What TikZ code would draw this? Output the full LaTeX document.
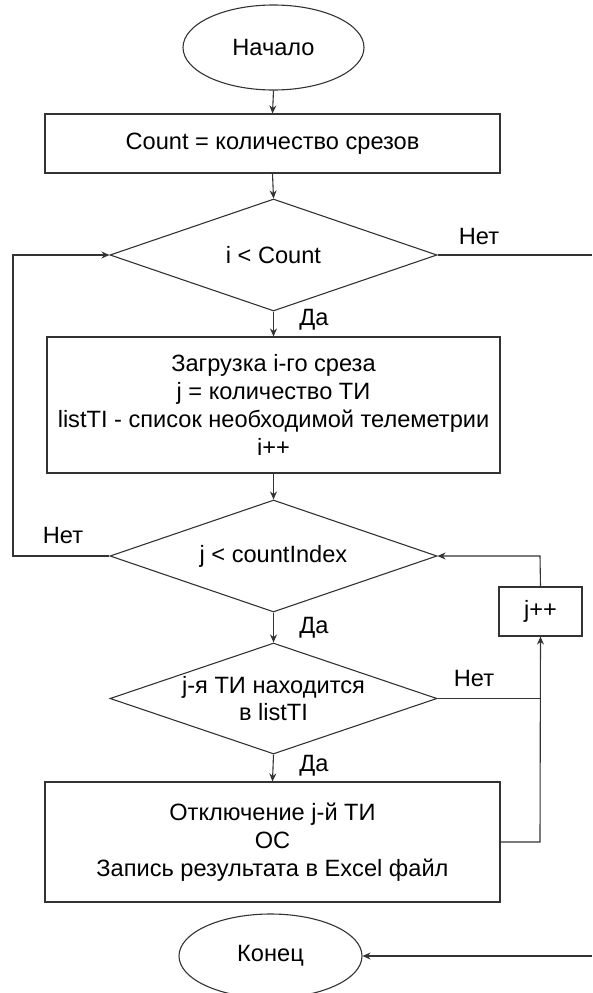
\documentclass[tikz,border=0pt]{standalone}
\usepackage{fontspec}
\setmainfont{Liberation Sans}
\usetikzlibrary{shapes.geometric,arrows.meta}
\begin{document}
\begin{tikzpicture}[x=1pt,y=-1pt,
  every node/.style={font=\fontsize{23.6}{27.8}\selectfont, text=black},
  ln/.style={draw=black!80, line width=1.1pt},
  term/.style={ln, ellipse, inner sep=0pt},
  proc/.style={ln, rectangle, inner sep=0pt, align=center},
  dec/.style={ln, diamond, inner sep=0pt},
  txt/.style={align=center, inner sep=0pt},
  arr/.style={ln, -{Stealth[length=8pt,width=7pt]}},
  con/.style={ln}]
\useasboundingbox (0,0) rectangle (592,993);
% nodes
\node[term, minimum width=181pt, minimum height=85pt] (start) at (273.5,47.5) {Начало};
\node[proc, minimum width=455pt, minimum height=59pt] (count) at (272.5,143.5) {Count = количество срезов};
\node[dec, minimum width=327pt, minimum height=112pt] (d1) at (273.5,255) {};
\node[txt] (d1t) at (d1.center) {i < Count};
\node[proc, minimum width=453pt, minimum height=136pt] (load) at (273.5,405) {Загрузка i-го среза\\j = количество ТИ\\listTI - список необходимой телеметрии\\i++};
\node[dec, minimum width=327pt, minimum height=112pt] (d2) at (273.5,556) {};
\node[txt] (d2t) at (d2.center) {j < countIndex};
\node[dec, minimum width=327pt, minimum height=111pt] (d3) at (273.5,698.5) {};
\node[txt] (d3t) at (d3.center) {j-я ТИ находится\\в listTI};
\node[proc, minimum width=455pt, minimum height=120pt] (rec) at (272.5,842) {Отключение j-й ТИ\\ОС\\Запись результата в Excel файл};
\node[proc, minimum width=83pt, minimum height=49pt] (jpp) at (540.5,611.5) {j++};
\node[term, minimum width=183pt, minimum height=84pt] (end) at (270.5,956) {Конец};
% labels
\node[txt] (l1) at (479,236) {Нет};
\node[txt] (l2) at (314,320) {Да};
\node[txt] (l3) at (63,535) {Нет};
\node[txt] (l4) at (314,628) {Да};
\node[txt] (l5) at (474,678) {Нет};
\node[txt] (l6) at (314,766) {Да};
% helper coordinates
\coordinate (lx1) at (13,556);
\coordinate (lx2) at (13,255);
\coordinate (rx1) at (592,255);
\coordinate (rx2) at (592,956);
\coordinate (jx1) at (540,698.5);
\coordinate (jx2) at (540,842);
\coordinate (jx3) at (540,556);
% connectors
\draw[arr] (start.south) -- (count.north);
\draw[arr] (count.south) -- (d1.north);
\draw[arr] (d1.south) -- (load.north);
\draw[arr] (load.south) -- (d2.north);
\draw[arr] (d2.south) -- (d3.north);
\draw[arr] (d3.south) -- (rec.north);
\draw[arr] (d2.west) -- (lx1) -- (lx2) -- (d1.west);
\draw[con] (d1.east) -- (rx1);
\draw[arr] (rx2) -- (end.east);
\draw[con] (d3.east) -- (jx1);
\draw[arr] (rec.east) -- (jx2) -- (jpp.south);
\draw[arr] (jpp.north) -- (jx3) -- (d2.east);
\end{tikzpicture}
\end{document}
